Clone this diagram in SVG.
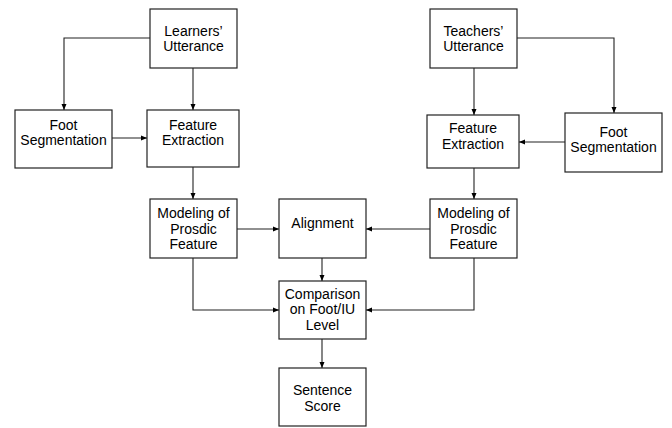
<svg xmlns="http://www.w3.org/2000/svg" width="672" height="428" viewBox="0 0 672 428">
<defs>
<marker id="ah" markerWidth="6" markerHeight="6" refX="6" refY="3" orient="auto" markerUnits="userSpaceOnUse">
<path d="M0,0.5 L6,3 L0,5.5 Z" fill="#000"/>
</marker>
<style>
.box{fill:#fff;stroke:#222;stroke-width:1.2}
.t{font-family:"Liberation Sans",Arial,sans-serif;font-size:14px;fill:#000;text-anchor:middle}
.c{fill:none;stroke:#222;stroke-width:1.1;marker-end:url(#ah)}
</style>
</defs>
<rect width="672" height="428" fill="#fff"/>
<g id="connectors">
<path class="c" d="M150,38 H64 V110"/>
<path class="c" d="M193,68 V110"/>
<path class="c" d="M112,138 H147"/>
<path class="c" d="M193,167 V199"/>
<path class="c" d="M237,229 H279"/>
<path class="c" d="M322,258 V281"/>
<path class="c" d="M193,258 V310 H279"/>
<path class="c" d="M322,339 V368"/>
<path class="c" d="M517,38 H614 V113"/>
<path class="c" d="M474,68 V115"/>
<path class="c" d="M565,142 H519"/>
<path class="c" d="M474,168 V199"/>
<path class="c" d="M430,229 H366"/>
<path class="c" d="M474,258 V310 H366"/>
</g>
<g id="learners">
<rect class="box" x="150" y="9" width="87" height="59"/>
<text class="t" x="193.5" y="36">Learners’</text>
<text class="t" x="193.5" y="51">Utterance</text>
</g>
<g id="footL">
<rect class="box" x="15" y="110" width="97" height="58"/>
<text class="t" x="63.5" y="130">Foot</text>
<text class="t" x="63.5" y="145">Segmentation</text>
</g>
<g id="featL">
<rect class="box" x="147" y="110" width="92" height="57"/>
<text class="t" x="193" y="130">Feature</text>
<text class="t" x="193" y="145">Extraction</text>
</g>
<g id="modelL">
<rect class="box" x="150" y="199" width="87" height="59"/>
<text class="t" x="193.5" y="218">Modeling of</text>
<text class="t" x="193.5" y="234">Prosdic</text>
<text class="t" x="193.5" y="249">Feature</text>
</g>
<g id="alignment">
<rect class="box" x="279" y="199" width="87" height="59"/>
<text class="t" x="322.5" y="228">Alignment</text>
</g>
<g id="comparison">
<rect class="box" x="279" y="281" width="87" height="58"/>
<text class="t" x="322.5" y="299">Comparison</text>
<text class="t" x="322.5" y="314">on Foot/IU</text>
<text class="t" x="322.5" y="330">Level</text>
</g>
<g id="score">
<rect class="box" x="279" y="368" width="87" height="58"/>
<text class="t" x="322.5" y="395">Sentence</text>
<text class="t" x="322.5" y="411">Score</text>
</g>
<g id="teachers">
<rect class="box" x="430" y="9" width="87" height="59"/>
<text class="t" x="473.5" y="36">Teachers’</text>
<text class="t" x="473.5" y="51">Utterance</text>
</g>
<g id="featR">
<rect class="box" x="427" y="115" width="92" height="53"/>
<text class="t" x="473" y="133">Feature</text>
<text class="t" x="473" y="149">Extraction</text>
</g>
<g id="footR">
<rect class="box" x="565" y="113" width="97" height="59"/>
<text class="t" x="613.5" y="137">Foot</text>
<text class="t" x="613.5" y="152">Segmentation</text>
</g>
<g id="modelR">
<rect class="box" x="430" y="199" width="87" height="59"/>
<text class="t" x="473.5" y="218">Modeling of</text>
<text class="t" x="473.5" y="234">Prosdic</text>
<text class="t" x="473.5" y="249">Feature</text>
</g>
</svg>
